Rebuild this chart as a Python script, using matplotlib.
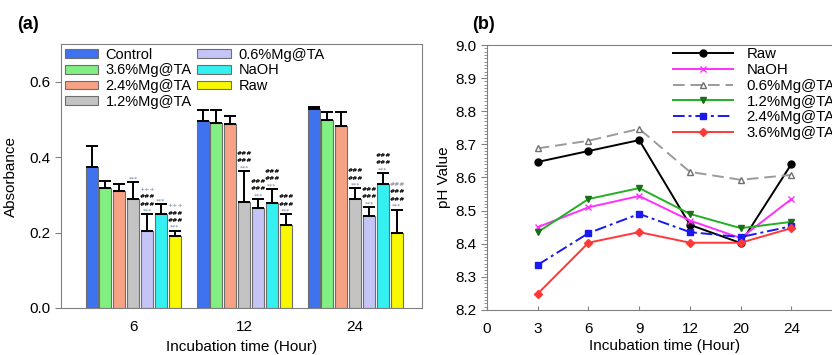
import numpy as np
import matplotlib
matplotlib.use('Agg')
import matplotlib.pyplot as plt
from matplotlib.ticker import MultipleLocator

plt.rcParams['font.family'] = ['Liberation Sans', 'DejaVu Sans']

# ---- panel (a) data ----
groups = ['6', '12', '24']
names = ['Control', '3.6%Mg@TA', '2.4%Mg@TA', '1.2%Mg@TA', '0.6%Mg@TA', 'NaOH', 'Raw']
colors = ['#3f72ee', '#82ef82', '#f7a185', '#c3c3c3', '#c4c4f7', '#35f0f0', '#f8f800']
absorb = [
    [0.373, 0.317, 0.309, 0.290, 0.205, 0.248, 0.192],
    [0.496, 0.490, 0.488, 0.280, 0.264, 0.278, 0.219],
    [0.528, 0.499, 0.483, 0.288, 0.243, 0.328, 0.200],
]
err_top = [
    [0.430, 0.336, 0.328, 0.333, 0.248, 0.275, 0.205],
    [0.525, 0.525, 0.510, 0.363, 0.288, 0.315, 0.248],
    [0.533, 0.520, 0.520, 0.317, 0.267, 0.357, 0.261],
]
# significance marks (bottom -> top) per bar
marks = [
    [[], [], [], ['***'], ['***', '###', '###', '+++'], ['***'], ['***', '###', '###', '+++']],
    [[], [], [], ['***', '###', '###'], ['***', '###', '###'], ['***', '###', '###'], ['***', '###', '###']],
    [[], [], [], ['***', '###', '###'], ['***', '###', '###'], ['***', '###', '###'], ['***', '###', '###', '##g']],
]

# ---- panel (b) data ----
hours = ['0', '3', '6', '9', '12', '20', '24']
ph_names = ['Raw', 'NaOH', '0.6%Mg@TA', '1.2%Mg@TA', '2.4%Mg@TA', '3.6%Mg@TA']
ph_raw = [8.647, 8.680, 8.713, 8.457, 8.402, 8.641]
ph_naoh = [8.450, 8.510, 8.544, 8.470, 8.417, 8.535]
ph_06 = [8.688, 8.711, 8.747, 8.617, 8.593, 8.608]
ph_12 = [8.435, 8.535, 8.568, 8.490, 8.447, 8.466]
ph_24 = [8.336, 8.432, 8.490, 8.435, 8.420, 8.453]
ph_36 = [8.249, 8.403, 8.435, 8.403, 8.403, 8.447]

spine_c = '#808080'
fig = plt.figure(figsize=(8.32, 3.55), dpi=100)

# ---------------- (a) ----------------
ax = fig.add_axes([0.0733, 0.1324, 0.4337, 0.7436])
xg = np.arange(1, 4)
w = 0.125
for i, name in enumerate(names):
    vals = [absorb[g][i] for g in range(3)]
    errs = [err_top[g][i] - absorb[g][i] for g in range(3)]
    xs = xg + (i - 3) * w
    ax.bar(xs, vals, width=0.108, color=colors[i], edgecolor='#6e6e6e', linewidth=0.8,
           label=name, zorder=2)
    ax.errorbar(xs, vals, yerr=[np.zeros(3), errs], fmt='none', ecolor='black',
                elinewidth=1.4, capsize=4, capthick=1.4, zorder=3)
    for g in range(3):
        for k, m in enumerate(marks[g][i]):
            if m.startswith('#'):
                col = '#9a9aa8' if m == '##g' else 'black'
                txt = '###'
                fw = 'bold'
            else:
                col = '#6a7a9a'
                txt = m
                fw = 'normal'
            ax.annotate(txt, (xs[g], err_top[g][i]), xytext=(0, 0.5 + k * 5.2),
                        textcoords='offset points', ha='center', va='bottom',
                        fontsize=4.4, color=col, fontweight=fw, zorder=4,
                        family='DejaVu Sans')
ax.set_xlim(0.35, 3.6)
ax.set_ylim(0, 0.7)
ax.set_xticks(xg)
ax.set_xticklabels(groups)
ax.set_yticks([0.0, 0.2, 0.4, 0.6])
ax.set_yticklabels(['0.0', '0.2', '0.4', '0.6'])
ax.tick_params(axis='x', length=0, labelsize=11, pad=9)
ax.tick_params(axis='y', length=4, color=spine_c, labelsize=11)
for s in ax.spines.values():
    s.set_color(spine_c)
ax.set_xlabel('Incubation time (Hour)', fontsize=11, labelpad=4)
ax.set_ylabel('Absorbance', fontsize=11, labelpad=8)
ax.legend(loc='upper left', ncol=2, frameon=False, fontsize=10.5,
          handlelength=2.3, handleheight=0.55, handletextpad=0.5,
          columnspacing=0.4, labelspacing=0.12, borderaxespad=0.15, borderpad=0.1)
fig.text(0.02, 0.93, '(a)', fontsize=13, fontweight='bold', va='center')

# ---------------- (b) ----------------
bx = fig.add_axes([0.5853, 0.127, 0.427, 0.746])
xp = np.arange(1, 7)
bx.plot(xp, ph_raw, color='black', lw=1.4, marker='o', ms=5, label=ph_names[0])
bx.plot(xp, ph_naoh, color='#ff30ff', lw=1.4, marker='x', ms=5, mew=1, label=ph_names[1])
bx.plot(xp, ph_06, color='#9a9a9a', lw=1.4, ls=(0, (6, 3)), marker='^', ms=5,
        mfc='white', mec='#707070', label=ph_names[2])
bx.plot(xp, ph_12, color='#22b022', lw=1.4, marker='v', ms=5, mfc='#187018',
        mec='#187018', label=ph_names[3])
bx.plot(xp, ph_24, color='#1a1aee', lw=1.4, ls=(0, (6, 2, 1.5, 2)), marker='s', ms=5,
        label=ph_names[4])
bx.plot(xp, ph_36, color='#ff3838', lw=1.4, marker='D', ms=4, label=ph_names[5])
bx.set_xlim(0, 7)
bx.set_ylim(8.2, 9.0)
bx.set_xticks(np.arange(0, 7))
bx.set_xticklabels(hours)
bx.yaxis.set_major_locator(MultipleLocator(0.1))
bx.yaxis.set_minor_locator(MultipleLocator(0.01))
bx.tick_params(axis='x', direction='in', length=3, color=spine_c, labelsize=11, pad=9)
bx.tick_params(axis='y', which='major', length=4, color=spine_c, labelsize=11)
bx.tick_params(axis='y', which='minor', length=2, color=spine_c)
for s in bx.spines.values():
    s.set_color(spine_c)
bx.set_xlabel('Incubation time (Hour)', fontsize=11, labelpad=2)
bx.set_ylabel('pH Value', fontsize=11, labelpad=3)
bx.legend(loc='upper left', bbox_to_anchor=(0.809, 0.867), bbox_transform=fig.transFigure,
          frameon=False, fontsize=10.8, handlelength=4.0, handletextpad=0.9,
          labelspacing=0.12, borderaxespad=0, borderpad=0)
fig.text(0.567, 0.93, '(b)', fontsize=13, fontweight='bold', va='center')

fig.savefig('out.png', dpi=100)
